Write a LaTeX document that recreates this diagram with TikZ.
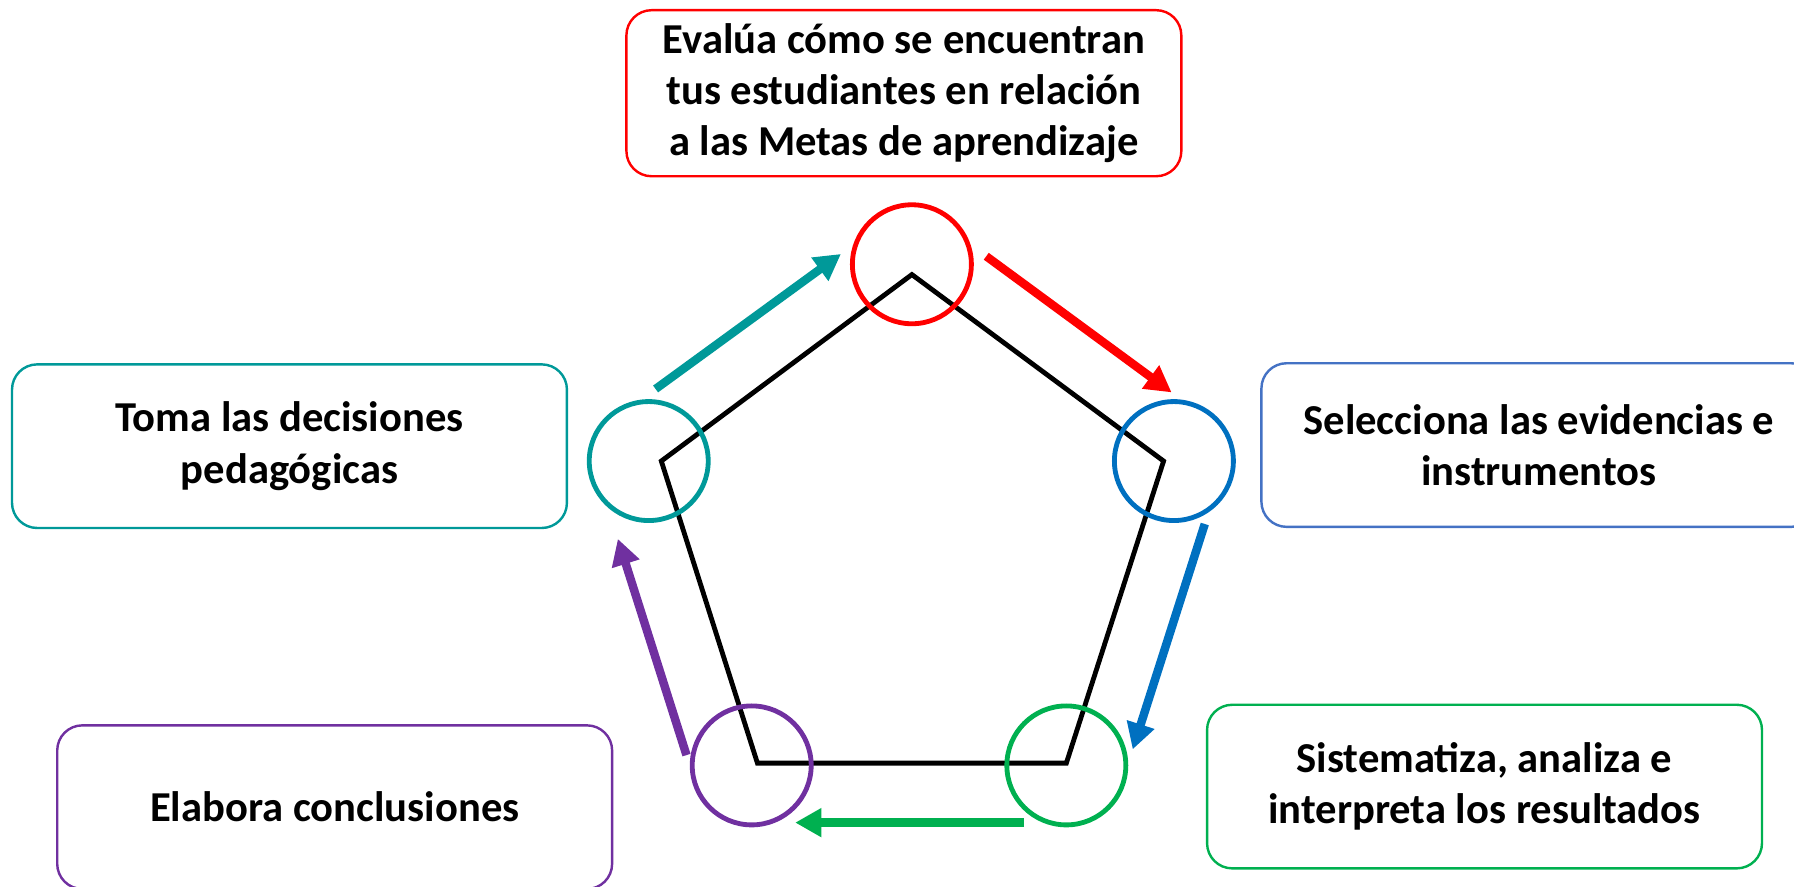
\documentclass[tikz,border=0pt]{standalone}
\usepackage{fontspec}
\setmainfont{Carlito}
\usepackage{tikz}
\usetikzlibrary{arrows.meta, positioning}
\definecolor{stepred}{RGB}{255, 0, 0}
\definecolor{tealcolor}{RGB}{0, 153, 153}
\definecolor{arrowblue}{RGB}{0, 112, 192}
\definecolor{boxblue}{RGB}{68, 114, 196}
\definecolor{stepgreen}{RGB}{0, 176, 80}
\definecolor{steppurple}{RGB}{112, 48, 160}

\begin{document}
\begin{tikzpicture}[
    stage/.style={draw=#1, line width=0.6pt, rounded corners=0.22cm,
        minimum width=4.85cm, minimum height=1.43cm, align=center,
        font=\bfseries\fontsize{10.6}{12.7}\selectfont},
    ring/.style={draw=#1, line width=1.2pt, circle, minimum size=1.04cm, inner sep=0pt},
    flow/.style={draw=#1, line width=2.1pt, -{Triangle[length=6.5pt, width=6.8pt]}}
]
    \useasboundingbox (0,0) rectangle (15.68,7.75);

    % Pentagon (the cycle)
    \draw[line width=1.2pt] (7.97,5.35) -- (10.17,3.72) -- (9.32,1.08)
        -- (6.62,1.08) -- (5.78,3.72) -- cycle;

    % Circles on the corners
    \node[ring=stepred] (evalua) at (7.97,5.44) {};
    \node[ring=arrowblue] (selecciona) at (10.26,3.72) {};
    \node[ring=stepgreen] (sistematiza) at (9.32,1.06) {};
    \node[ring=steppurple] (elabora) at (6.57,1.06) {};
    \node[ring=tealcolor] (toma) at (5.67,3.72) {};

    % Boxes with the steps
    \node[stage=stepred] (evaluabox) at (7.90,6.935)
        {Evalúa cómo se encuentran\\tus estudiantes en relación\\a las Metas de aprendizaje};
    \node[stage=boxblue] (seleccionabox) at (13.45,3.86)
        {Selecciona las evidencias e\\instrumentos};
    \node[stage=stepgreen] (sistematizabox) at (12.975,0.875)
        {Sistematiza, analiza e\\interpreta los resultados};
    \node[stage=steppurple] (elaborabox) at (2.925,0.695)
        {Elabora conclusiones};
    \node[stage=tealcolor] (tomabox) at (2.53,3.85)
        {Toma las decisiones\\pedagógicas};

    % Arrows between the corners
    \coordinate (toma out) at (5.73,4.35);
    \coordinate (evalua in) at (7.35,5.53);
    \coordinate (evalua out) at (8.62,5.51);
    \coordinate (selecciona in) at (10.24,4.32);
    \coordinate (selecciona out) at (10.53,3.17);
    \coordinate (sistematiza in) at (9.90,1.20);
    \coordinate (sistematiza out) at (8.95,0.56);
    \coordinate (elabora in) at (6.95,0.56);
    \coordinate (elabora out) at (6.00,1.15);
    \coordinate (toma in) at (5.40,3.04);

    \draw[flow=tealcolor] (toma out) -- (evalua in);
    \draw[flow=stepred] (evalua out) -- (selecciona in);
    \draw[flow=arrowblue] (selecciona out) -- (sistematiza in);
    \draw[flow=stepgreen] (sistematiza out) -- (elabora in);
    \draw[flow=steppurple] (elabora out) -- (toma in);
\end{tikzpicture}
\end{document}
